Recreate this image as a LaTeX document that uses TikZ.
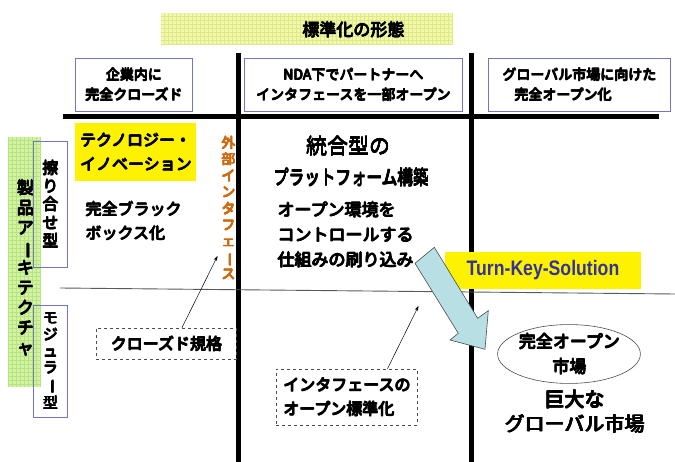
\documentclass[tikz,border=0pt]{standalone}
\usepackage{fontspec}
\usepackage{graphicx}
\setmainfont{Noto Sans CJK JP}
\newfontfamily\lat{Liberation Sans}
\usetikzlibrary{shapes.geometric,arrows.meta}
\definecolor{titlebg}{HTML}{F3F8A8}
\definecolor{titlegrid}{HTML}{DDE98A}
\definecolor{greenbg}{HTML}{D4F2A4}
\definecolor{greengrid}{HTML}{B6E482}
\definecolor{boxblue}{HTML}{7474C4}
\definecolor{extorange}{HTML}{CC6A10}
\definecolor{tkblue}{HTML}{333399}
\definecolor{arrowfill}{HTML}{B8DFE4}
% heavy text: overprint the same line with small offsets
\newcommand{\hb}[1]{\leavevmode
  \rlap{\kern0.9pt\raisebox{0pt}{#1}}%
  \rlap{\kern0.45pt\raisebox{0.45pt}{#1}}%
  \rlap{\kern0.45pt\raisebox{-0.45pt}{#1}}%
  \rlap{\kern0.9pt\raisebox{-0.45pt}{#1}}%
  \rlap{\kern0pt\raisebox{-0.45pt}{#1}}%
  #1}
\newcommand{\vbar}{\rotatebox[origin=c]{-90}{ー}}
\tikzset{
  hdrbox/.style={draw=boxblue, line width=0.8pt, minimum height=53pt, inner sep=0pt, align=center, font=\fontsize{14}{20}\selectfont},
  sidebox/.style={draw=boxblue, line width=0.8pt, minimum width=34pt, inner sep=0pt, align=center},
  heavy/.style={line width=5pt, black},
  dashbox/.style={draw=black!70, dashed, line width=0.6pt, inner sep=0pt, align=left, font=\fontsize{16}{24}\selectfont},
  conn/.style={-{Stealth[length=5pt,width=3.5pt]}, line width=0.5pt, black},
}
\begin{document}
\begin{tikzpicture}[x=1pt,y=-1pt]
\useasboundingbox (0,0) rectangle (675,462);
% title
\fill[titlebg] (161,13) rectangle (452,45);
\draw[titlegrid, line width=0.4pt, step=4pt] (161,13) grid (452,45);
\node[font=\fontsize{17}{20}\selectfont] (title) at (353,30) {\hb{標準化の形態}};
% header boxes
\node[hdrbox, minimum width=117pt] (h1) at (133.5,84.5) {\hb{企業内に}\\\hb{完全クローズド}};
\node[hdrbox, minimum width=218pt] (h2) at (353,84.5) {\hb{NDA下でパートナーへ}\\\hb{インタフェースを一部オープン}};
\node[hdrbox, minimum width=182pt, align=left] (h3) at (579,84.5) {\hb{グローバル市場に向けた}\\\hspace*{12pt}\hb{完全オープン化}};
% thick lines
\draw[heavy] (63,117) -- (659,117);
\draw[heavy] (238,53) -- (238,462);
\draw[heavy] (471,53) -- (471,462);
% thin divider
\draw[black!65, line width=0.9pt] (60,288) -- (675,294);
% left green bar
\fill[greenbg] (8,137) rectangle (40,387);
\draw[greengrid, line width=0.4pt, step=4pt] (8,137) grid (40,387);
\node[align=center, inner sep=0pt, font=\fontsize{17}{20}\selectfont] (arch) at (25,268) {\hb{製}\\\hb{品}\\\hb{ア}\\\hb{\vbar}\\\hb{キ}\\\hb{テ}\\\hb{ク}\\\hb{チ}\\\hb{ャ}};
\node[sidebox, minimum height=126pt, font=\fontsize{16}{18.2}\selectfont] (sur) at (50,204) {\hb{擦}\\\hb{り}\\\hb{合}\\\hb{せ}\\\hb{型}};
\node[sidebox, minimum height=112pt, font=\fontsize{15}{16.6}\selectfont] (mod) at (50,361) {\hb{モ}\\\hb{ジ}\\\hb{ュ}\\\hb{ラ}\\\hb{\vbar}\\\hb{型}};
% column 1
\node[fill=yellow, minimum width=121pt, minimum height=58pt, inner sep=0pt, align=left, font=\fontsize{16}{24}\selectfont] (tech) at (135.5,152) {\hb{テクノロジー・}\\\hb{イノベーション}};
\node[anchor=west, align=left, inner sep=0pt, font=\fontsize{16}{24}\selectfont] (black) at (85,221) {\hb{完全ブラック}\\\hb{ボックス化}};
\node[align=center, inner sep=0pt, text=extorange, font=\fontsize{14}{16.4}\selectfont] (ext) at (228,208) {\hb{外}\\\hb{部}\\\hb{イ}\\\hb{ン}\\\hb{タ}\\\hb{フ}\\\hb{ェ}\\\hb{\vbar}\\\hb{ス}};
% column 2
\node[font=\fontsize{21}{24}\selectfont, inner sep=0pt] (int1) at (348,146) {\hb{統合型の}};
\node[font=\fontsize{20}{24}\selectfont, inner sep=0pt] (int2) at (351,177) {\scalebox{0.78}[1]{\hb{プラットフォーム構築}}};
\node[anchor=west, align=left, inner sep=0pt, font=\fontsize{17}{25}\selectfont] (ctrl) at (277,235) {\hb{オープン環境を}\\\hb{コントロールする}\\\hb{仕組みの刷り込み}};
% turn-key
\node[fill=yellow, minimum width=196pt, minimum height=37pt, inner sep=0pt, text=tkblue, font=\lat\bfseries\fontsize{21}{24}\selectfont] (tk) at (543,270.5) {\scalebox{0.84}[1]{Turn-Key-Solution}};
% big arrow
\filldraw[fill=arrowfill, draw=black!70, line width=0.6pt]
  (434.3,247.3) -- (477.7,318.3) -- (488.3,310.7) -- (485,349.3) -- (450,340) -- (458.3,333.3) -- (415,263.3) -- cycle;
% dashed boxes
\node[dashbox, minimum width=140pt, minimum height=31pt, align=center] (cls) at (166,343.5) {\hb{クローズド規格}};
\node[dashbox, minimum width=141pt, minimum height=56pt] (std) at (346.5,397) {\hb{インタフェースの}\\\hb{オープン標準化}};
\coordinate (c1) at (217.5,256);
\coordinate (c2) at (418.5,306);
\draw[conn] ([xshift=16pt]cls.north) -- (c1);
\draw[conn] ([xshift=41pt]std.north) -- (c2);
% column 3
\node[ellipse, draw=black!70, line width=0.6pt, minimum width=120pt, minimum height=58pt, inner sep=0pt, align=center, font=\fontsize{17}{25}\selectfont] (open) at (569,354) {\hb{完全オープン}\\\hb{市場}};
\node[align=center, inner sep=0pt, font=\fontsize{20}{25}\selectfont] (global) at (574.5,411.5) {\hb{巨大な}\\\hb{グローバル市場}};
\end{tikzpicture}
\end{document}
